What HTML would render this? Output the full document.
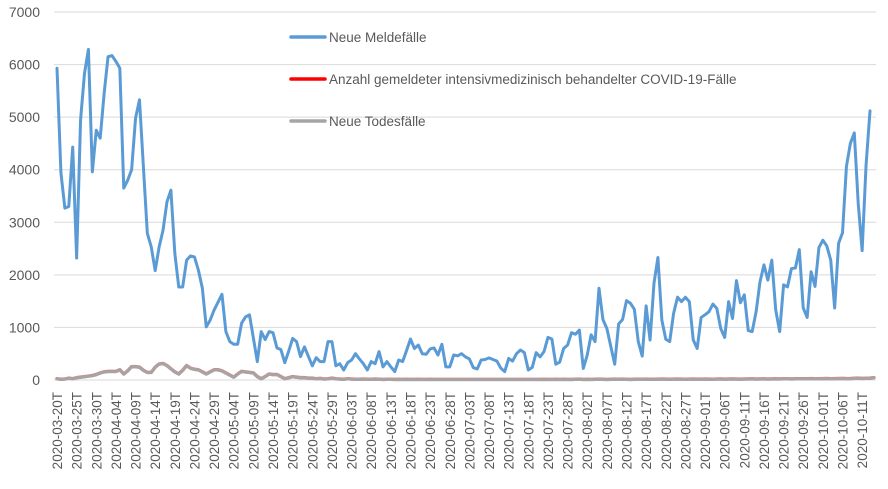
<!DOCTYPE html>
<html><head><meta charset="utf-8"><style>
html,body{margin:0;padding:0;background:#fff;}
svg{display:block;font-family:"Liberation Sans",sans-serif;}
</style></head><body>
<svg id="chart" width="888" height="489" viewBox="0 0 888 489"></svg>
<script>
const startDate = "2020-03-20";
const yTicks = [0,1000,2000,3000,4000,5000,6000,7000];
const seriesNames = ["Neue Meldefälle","Anzahl gemeldeter intensivmedizinisch behandelter COVID-19-Fälle","Neue Todesfälle"];
const cases = [5930,3940,3270,3300,4430,2320,4950,5830,6290,3960,4750,4600,5450,6150,6170,6060,5930,3650,3800,4000,4980,5330,4050,2790,2530,2080,2530,2850,3390,3610,2410,1770,1770,2280,2360,2340,2090,1750,1010,1140,1330,1480,1630,920,730,680,680,1080,1200,1240,800,350,920,770,920,900,610,580,330,550,790,730,
445,630,450,270,425,350,350,730,730,270,310,190,330,380,500,400,310,190,350,310,540,250,350,250,160,380,350,560,780,600,665,500,490,590,610,475,680,250,250,475,460,500,440,400,235,210,380,390,420,390,360,225,160,410,360,500,570,520,190,240,520,440,540,810,780,300,340,600,665,900,870,950,220,475,860,730,1745,1150,980,640,300,1065,1150,1510,1460,1345,730,455,1410,760,1840,2330,1140,775,730,1270,1575,1490,1575,1490,760,600,1190,1240,1300,1445,1360,980,810,1490,1170,1890,1470,1620,940,920,1300,1870,2190,1900,2280,1330,920,1810,1770,2120,2130,2480,1370,1190,2060,1780,2520,2660,2550,2280,1370,2600,2800,4060,4500,4700,3360,2460,4090,5120];
const deaths = [20,10,15,30,20,40,50,60,70,80,100,130,150,160,160,160,190,110,170,250,250,240,180,140,140,240,300,310,270,210,150,110,180,270,220,200,190,150,110,150,190,190,170,130,90,50,110,160,150,140,130,60,20,60,110,100,100,60,20,40,60,50,40,40,30,30,20,25,15,20,30,20,15,10,20,15,10,10,15,10,10,15,10,8,10,10,8,10,8,10,8,8,10,8,8,10,8,8,6,8,8,6,8,8,6,8,6,8,6,6,8,6,6,8,6,6,8,8,6,8,8,6,8,8,10,8,8,10,8,10,8,8,10,12,8,10,8,10,12,10,8,10,12,10,12,10,8,10,12,10,12,10,10,12,14,12,10,12,14,12,10,12,14,12,12,14,12,10,14,16,12,14,16,14,12,14,16,18,14,16,18,14,16,18,16,18,20,16,18,20,18,20,22,18,20,22,24,20,22,24,26,22,24,28,30,26,28,30,40];
const icu = [25,15,20,35,25,45,55,65,75,85,105,135,155,165,165,165,195,115,175,255,255,245,185,145,145,245,305,315,275,215,155,115,185,275,225,205,195,155,115,155,195,195,175,135,95,55,115,165,155,145,135,65,25,65,115,105,105,65,25,45,65,55,45,45,35,35,25,30,20,25,35,25,20,15,25,20,15,15,20,15,15,20,15,13,15,15,13,15,13,15,13,13,15,13,13,15,13,13,11,13,13,11,13,13,11,13,11,13,11,11,13,11,11,13,11,11,13,13,11,13,13,11,13,13,15,13,13,15,13,15,13,13,15,17,13,15,13,15,17,15,13,15,17,15,17,15,13,15,17,15,17,15,15,17,19,17,15,17,19,17,15,17,19,17,17,19,17,15,19,21,17,19,21,19,17,19,21,23,19,21,23,19,21,23,21,23,25,21,23,25,23,25,27,23,25,27,29,25,27,29,31,27,29,33,35,31,33,35,45];

const NS="http://www.w3.org/2000/svg";
const svg=document.getElementById('chart');
const X0=57, X1=870, Y0=380, Y1=12, YMAX=7000;
const n=cases.length;
function xs(i){return X0+(X1-X0)*i/(n-1);}
function ys(v){return Y0-(Y0-Y1)*v/YMAX;}
function mk(tag,attrs,parent){const e=document.createElementNS(NS,tag);for(const k in attrs)e.setAttribute(k,attrs[k]);(parent||svg).appendChild(e);return e;}

yTicks.forEach(t=>{
  const g=mk('line',{x1:54,x2:876,y1:ys(t),y2:ys(t),stroke:t===0?'#d9d9d9':'#d9d9d9','stroke-width':1});
  
  
  const tx=mk('text',{x:40,y:ys(t)+5,'text-anchor':'end','font-size':14,fill:'#595959'});
  tx.textContent=t;
  
  
});

function dateLabel(i){
  const d=new Date(startDate+"T00:00:00Z");d.setUTCDate(d.getUTCDate()+i);
  return d.toISOString().slice(0,10)+"T";
}
for(let i=0;i<n;i+=5){
  const x=xs(i)+5, y=392;
  const t=mk('text',{x:x,y:y,transform:`rotate(-90 ${x} ${y})`,'text-anchor':'end','font-size':13.5,fill:'#595959'});
  t.textContent=dateLabel(i);
  
  
}

function line(data,color,w,name){
  const p=mk('polyline',{points:data.map((v,i)=>xs(i).toFixed(2)+','+ys(v).toFixed(2)).join(' '),fill:'none',stroke:color,'stroke-width':w,'stroke-linejoin':'round','stroke-linecap':'round'});
  
  
}
line(icu,'#e88080',3.5,'icu-line');
line(deaths,'#a5a5a5',3,'deaths-line');
line(cases,'#5b9bd5',3,'cases-line');

const colors=['#5b9bd5','#ff0000','#a5a5a5'];
const legendNames=['legend-cases','legend-icu','legend-deaths'];
seriesNames.forEach((s,k)=>{
  const y=37+k*42;
  const g=mk('g',{});
  
  
  mk('line',{x1:291,x2:325,y1:y,y2:y,stroke:colors[k],'stroke-width':3.5,'stroke-linecap':'round'},g);
  const t=mk('text',{x:329,y:y+5,'font-size':13.5,fill:'#595959'},g);
  t.textContent=s;
});
</script>
</body></html>
